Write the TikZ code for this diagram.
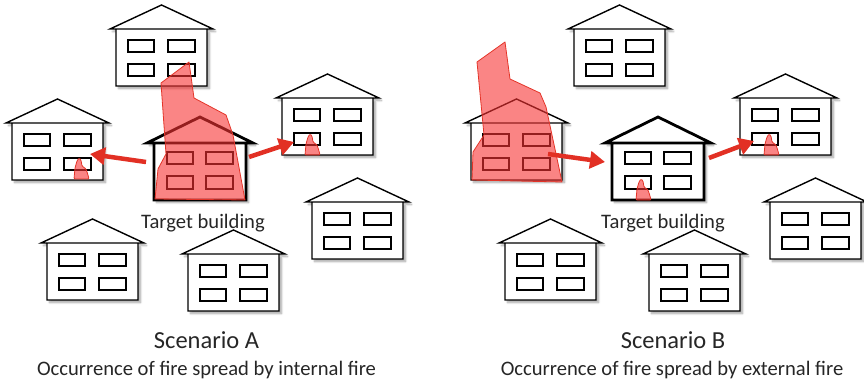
\documentclass[tikz,border=0pt]{standalone}
\usepackage{fontspec}
\setmainfont{Carlito}
\usetikzlibrary{arrows.meta,shadows.blur}

\definecolor{firefill}{rgb}{0.97,0.2,0.2}
\definecolor{fireline}{RGB}{228,52,40}
\definecolor{arrowred}{RGB}{226,48,36}
\definecolor{txt}{RGB}{38,38,38}

\tikzset{
  houseline/.style={draw=black, line width=1.4pt, fill=white},
  targetline/.style={draw=black, line width=2.8pt, fill=white},
  hshadow/.style={blur shadow={shadow xshift=2.5pt, shadow yshift=-2.5pt,
      shadow opacity=35, shadow blur steps=6, shadow blur radius=2pt}},
  win/.style={draw=black, line width=1.2pt},
  twin/.style={draw=black, line width=2.4pt},
  fire/.style={fill=firefill, fill opacity=0.6, draw=fireline, line width=0.8pt,
      line join=round},
  spread/.style={draw=arrowred, line width=4.5pt,
      -{Triangle[length=15pt,width=17pt]}},
  caption/.style={text=txt, font=\fontsize{20.6}{24}\selectfont, anchor=base},
  title/.style={text=txt, font=\fontsize{24.5}{29}\selectfont, anchor=base},
}

% ordinary house, body top-left corner at (#1,#2)
\newcommand\plainhouse[2]{%
  \begin{scope}[shift={(#1,#2)}]
    \draw[houseline,hshadow] (-6,0) -- (45.5,-24) -- (97,0) -- cycle
      (0,0) rectangle (91,57);
    \draw[win] (12,11) rectangle (38,23) (52,11) rectangle (79,23)
               (12,35) rectangle (38,47) (52,35) rectangle (79,47);
  \end{scope}}

% target house, drawn with heavier lines
\newcommand\targethouse[2]{%
  \begin{scope}[shift={(#1,#2)}]
    \draw[targetline,hshadow] (-7,0) -- (46,-26) -- (99,0) -- cycle
      (0,0) rectangle (92,57);
    \draw[twin] (13,9) rectangle (39,21) (52,9) rectangle (79,21)
                (13,33) rectangle (39,46) (52,33) rectangle (79,46);
  \end{scope}}

% small flame in a window, bottom-left corner at (#1,#2)
\newcommand\smallflame[2]{%
  \begin{scope}[shift={(#1,#2)}]
    \draw[fire, rounded corners=1pt] (0,0) -- (1,-11) -- (3,-18) -- (5,-21)
      -- (7,-19) -- (8,-13) -- (12,-10) -- (14,-4) -- (15,0) -- cycle;
  \end{scope}}

\begin{document}
\begin{tikzpicture}[x=1pt, y=-1pt]
\useasboundingbox (0,0) rectangle (864,382);

% ---------- Scenario A: internal fire ----------
\plainhouse{116}{29}
\plainhouse{12}{123}
\plainhouse{282}{98}
\plainhouse{312}{202}
\plainhouse{47}{243}
\plainhouse{188}{254}
\targethouse{154}{143}

\draw[fire] (189,62) -- (194,98) -- (226,115) -- (233,135) -- (245,200)
  -- (155,199) -- (158,169) -- (166,154) -- (161,83) -- cycle;
\smallflame{74}{179}
\smallflame{305}{155}

\coordinate (aLs) at (146,162);
\coordinate (aLe) at (90,154);
\coordinate (aRs) at (249,157);
\coordinate (aRe) at (294,142);
\draw[spread] (aLs) -- (aLe);
\draw[spread] (aRs) -- (aRe);

\node[caption] (tgtA) at (203,228) {Target building};
\node[title] (scA) at (206.5,348) {Scenario A};
\node[caption] (subA) at (206.5,375) {Occurrence of fire spread by internal fire};

% ---------- Scenario B: external fire ----------
\plainhouse{574}{29}
\plainhouse{471}{123}
\plainhouse{740}{98}
\plainhouse{770}{202}
\plainhouse{505}{243}
\plainhouse{649}{254}
\targethouse{612}{143}

\draw[fire] (505,42) -- (510,79) -- (540,93) -- (546,107) -- (562,182)
  -- (472,180) -- (473,152) -- (484,135) -- (477,62) -- cycle;
\smallflame{636}{200}
\smallflame{764}{155}

\coordinate (bLs) at (548,154);
\coordinate (bLe) at (605,162);
\coordinate (bRs) at (709,158);
\coordinate (bRe) at (754,141);
\draw[spread] (bLs) -- (bLe);
\draw[spread] (bRs) -- (bRe);

\node[caption] (tgtB) at (663,228) {Target building};
\node[title] (scB) at (673,348) {Scenario B};
\node[caption] (subB) at (672,375) {Occurrence of fire spread by external fire};
\end{tikzpicture}
\end{document}
